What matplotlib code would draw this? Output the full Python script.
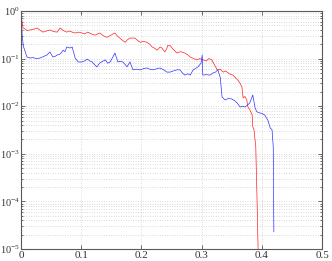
import numpy as np
import matplotlib
matplotlib.use('Agg')
import matplotlib.pyplot as plt
from matplotlib.ticker import LogLocator, NullFormatter

plt.rcParams['font.family'] = ['Liberation Serif', 'DejaVu Serif']
plt.rcParams['mathtext.fontset'] = 'stix'

red_x = [0, 0.0017, 0.0033, 0.0066, 0.010, 0.015, 0.020, 0.0266, 0.031, 0.0365, 0.042,
         0.048, 0.054, 0.060, 0.065, 0.070, 0.076, 0.081, 0.085, 0.090, 0.096, 0.101,
         0.106, 0.111, 0.117, 0.123, 0.127, 0.131, 0.137, 0.143, 0.149, 0.156, 0.160,
         0.164, 0.169, 0.173, 0.177, 0.181, 0.189, 0.194, 0.198, 0.204, 0.209, 0.214,
         0.218, 0.222, 0.226, 0.231, 0.234, 0.239, 0.242, 0.244, 0.2475, 0.252, 0.259,
         0.265, 0.272, 0.277, 0.281, 0.287, 0.292, 0.297, 0.302, 0.308, 0.312, 0.317,
         0.321, 0.326, 0.331, 0.3355, 0.340, 0.346, 0.352, 0.356, 0.360, 0.364, 0.367,
         0.369, 0.372, 0.375, 0.377, 0.380, 0.384, 0.385, 0.387, 0.390, 0.392, 0.394]
red_y = [1.0, 0.60, 0.44, 0.42, 0.39, 0.40, 0.41, 0.44, 0.40, 0.36, 0.38,
         0.40, 0.37, 0.36, 0.44, 0.39, 0.36, 0.38, 0.36, 0.345, 0.36, 0.345,
         0.33, 0.36, 0.33, 0.31, 0.33, 0.345, 0.30, 0.28, 0.31, 0.345, 0.30,
         0.27, 0.24, 0.22, 0.25, 0.27, 0.27, 0.24, 0.22, 0.23, 0.22, 0.20,
         0.175, 0.165, 0.15, 0.175, 0.167, 0.138, 0.16, 0.19, 0.19, 0.16, 0.131,
         0.14, 0.131, 0.12, 0.108, 0.10, 0.094, 0.10, 0.094, 0.090, 0.10, 0.094,
         0.075, 0.058, 0.060, 0.052, 0.055, 0.048, 0.045, 0.040, 0.0355, 0.030, 0.0253,
         0.0149, 0.016, 0.0135, 0.0096, 0.0085, 0.0065, 0.0037, 0.0032, 0.0014, 0.00012, 8e-6]

blue_x = [0, 0.0008, 0.002, 0.004, 0.0066, 0.010, 0.015, 0.020, 0.026, 0.0316, 0.037,
          0.043, 0.048, 0.053, 0.057, 0.060, 0.065, 0.070, 0.073, 0.076, 0.081, 0.085,
          0.090, 0.095, 0.101, 0.106, 0.110, 0.114, 0.118, 0.122, 0.126, 0.131, 0.136,
          0.140, 0.144, 0.148, 0.153, 0.156, 0.161, 0.165, 0.169, 0.173, 0.176, 0.181,
          0.186, 0.192, 0.198, 0.204, 0.209, 0.214, 0.219, 0.225, 0.231, 0.237, 0.2425,
          0.2475, 0.255, 0.259, 0.264, 0.268, 0.272, 0.277, 0.281, 0.286, 0.290, 0.294,
          0.299, 0.301, 0.302, 0.308, 0.314, 0.319, 0.323, 0.327, 0.331, 0.334, 0.339,
          0.344, 0.350, 0.355, 0.359, 0.364, 0.368, 0.372, 0.376, 0.380, 0.385, 0.389,
          0.392, 0.397, 0.401, 0.405, 0.410, 0.414, 0.417, 0.419, 0.420]
blue_y = [1.0, 0.55, 0.30, 0.18, 0.145, 0.108, 0.103, 0.105, 0.100, 0.103, 0.110,
          0.119, 0.138, 0.108, 0.112, 0.119, 0.125, 0.150, 0.140, 0.175, 0.167, 0.175,
          0.103, 0.085, 0.085, 0.090, 0.098, 0.090, 0.085, 0.075, 0.067, 0.081, 0.088,
          0.094, 0.080, 0.085, 0.110, 0.131, 0.085, 0.088, 0.085, 0.075, 0.067, 0.085,
          0.058, 0.060, 0.058, 0.062, 0.0635, 0.060, 0.058, 0.061, 0.0635, 0.058, 0.052,
          0.052, 0.056, 0.058, 0.058, 0.050, 0.045, 0.048, 0.045, 0.058, 0.062, 0.067,
          0.080, 0.119, 0.045, 0.046, 0.045, 0.050, 0.052, 0.058, 0.040, 0.0156, 0.0135,
          0.0145, 0.0142, 0.0130, 0.0117, 0.0096, 0.0100, 0.0096, 0.0105, 0.0117, 0.0172, 0.0090,
          0.0076, 0.0072, 0.0070, 0.0065, 0.0051, 0.0035, 0.0032, 0.0014, 2.3e-5]

fig = plt.figure(figsize=(3.32, 2.61), dpi=100)
ax = fig.add_axes([21 / 332, 12 / 261, 301 / 332, 238 / 261])

ax.semilogy(red_x, red_y, color='#ff2020', lw=0.5)
ax.semilogy(blue_x, blue_y, color='#3030ff', lw=0.5)

ax.set_xlim(0, 0.5)
ax.set_ylim(1e-5, 1)
ax.set_xticks([0, 0.1, 0.2, 0.3, 0.4, 0.5])
ax.set_xticklabels(['0', '0.1', '0.2', '0.3', '0.4', '0.5'])
ax.yaxis.set_major_locator(LogLocator(base=10, numticks=10))
ax.yaxis.set_minor_locator(LogLocator(base=10, subs=np.arange(2, 10), numticks=20))
ax.yaxis.set_minor_formatter(NullFormatter())

grid_kw = dict(color='0.72', lw=0.5, ls=(0, (1, 2.5)))
ax.grid(True, which='major', **grid_kw)
ax.grid(True, which='minor', axis='y', **grid_kw)
ax.tick_params(which='both', direction='in', top=True, right=True,
               colors='0.2', width=0.5)
ax.tick_params(which='major', length=3)
ax.tick_params(which='minor', length=1.5)
ax.tick_params(axis='y', pad=1, labelsize=7.5)
ax.tick_params(axis='x', pad=1.5, labelsize=8)
for s in ax.spines.values():
    s.set_color('0.35')
    s.set_linewidth(0.8)

fig.savefig('out.png', dpi=100)
